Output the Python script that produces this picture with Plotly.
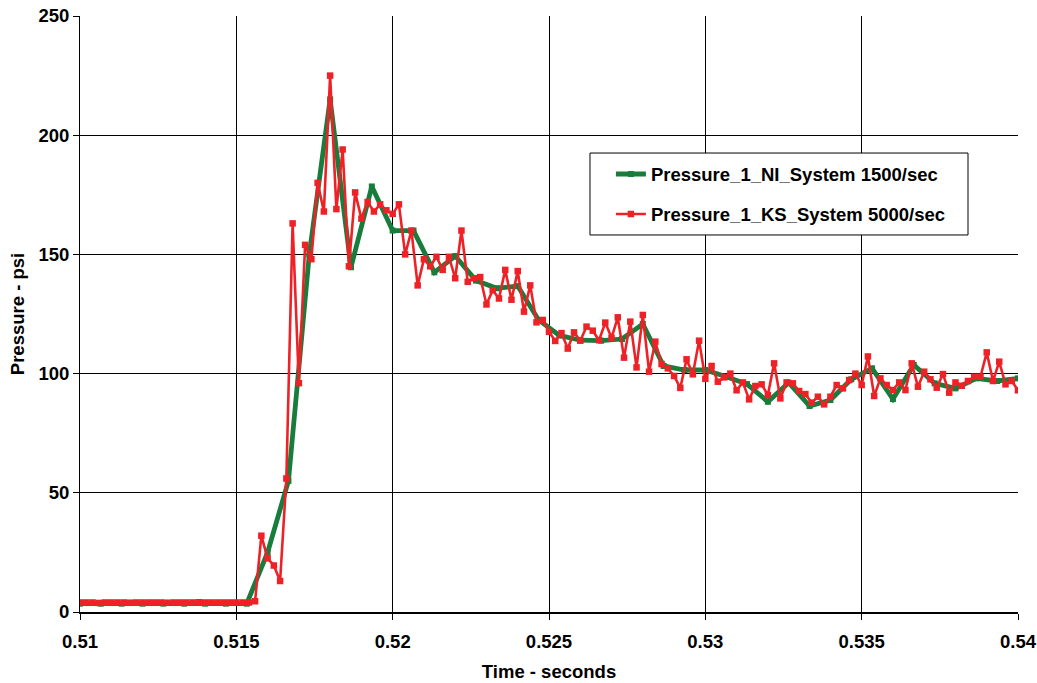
import plotly.graph_objects as go

# Sampling setup for the two acquisition systems
T0 = 0.51
NI_RATE = 1500.0   # samples per second
KS_RATE = 5000.0   # samples per second

# Pressure_1 from the NI system (psi), one value per 1/1500 s starting at T0
ni_pressure = [
    3.5, 3.5, 3.5, 3.5, 3.5, 3.5, 3.5, 3.5, 3.5, 25,
    55, 150, 215, 144.6, 178.5, 160, 160, 142.5, 149.3, 139,
    135.8, 136.7, 122.5, 116, 114, 113.8, 114.5, 120.8, 103.2, 101.5,
    101.5, 98.7, 95.6, 88.2, 96.2, 86.4, 88.9, 97.6, 102.2, 89.3,
    103.6, 95.9, 93.8, 98, 96.9, 98, 97,
]

# Pressure_1 from the KS system (psi), one value per 1/5000 s starting at T0
ks_pressure = [
    4, 4, 4, 3.8, 4, 4, 4, 4, 3.9, 4,
    4, 4, 4, 4, 3.9, 4, 4, 4, 4, 4.1,
    4, 4, 4, 4, 4, 4, 4, 4, 4.5, 32,
    22.5, 19.5, 13, 56, 163, 96, 154, 148, 180, 168,
    225, 169, 194, 145, 176, 165, 172, 168, 171, 168.5,
    167, 171, 150, 160, 137, 148, 145, 149, 143.5, 149,
    140, 160, 138.5, 140, 140.5, 129, 135, 131.5, 143.5, 131,
    143, 126, 137, 121.5, 122.5, 117.5, 113.7, 117, 110.5, 117.3,
    113.8, 119.7, 118, 114, 121.4, 115, 123.6, 106.7, 121.8, 102.6,
    124.6, 100.8, 113.4, 104, 102.2, 99, 94, 106, 99.7, 113.8,
    97.8, 103.2, 96.6, 98.4, 100, 93, 96.3, 89.2, 94.8, 95.5,
    91, 104.3, 89.6, 96.3, 95.9, 92.7, 91.4, 87.8, 90.3, 87.1,
    90.3, 95.2, 93.8, 97.3, 100, 95.2, 107.2, 90.6, 98, 95.2,
    93.1, 96.3, 93.1, 104.3, 94.5, 100.8, 97.6, 94.1, 99.8, 92,
    96.3, 94.9, 96.9, 98.7, 98.7, 108.9, 96.9, 105, 95.5, 96.9,
    93, 86,
]

x_ticks = [0.51, 0.515, 0.52, 0.525, 0.53, 0.535, 0.54]
x_tick_text = ["0.51", "0.515", "0.52", "0.525", "0.53", "0.535", "0.54"]
y_ticks = [0, 50, 100, 150, 200, 250]

ni_time = [T0 + n / NI_RATE for n in range(len(ni_pressure))]
ks_time = [T0 + n / KS_RATE for n in range(len(ks_pressure))]

FONT = "Liberation Sans, Arial, sans-serif"
GREEN = "#187c3c"
RED = "#ee2226"
BOLD = dict(family=FONT, size=18.5, color="black", weight="bold")

fig = go.Figure()
fig.add_trace(go.Scatter(
    x=ni_time, y=ni_pressure, mode="lines+markers",
    name="Pressure_1_NI_System 1500/sec", legendgroup="ni",
    line=dict(color=GREEN, width=4.8),
    marker=dict(symbol="square", size=6, color=GREEN),
    cliponaxis=True,
))
fig.add_trace(go.Scatter(
    x=ks_time, y=ks_pressure, mode="lines+markers",
    name="Pressure_1_KS_System 5000/sec", legendgroup="ks",
    line=dict(color=RED, width=2.6),
    marker=dict(symbol="square", size=6.5, color=RED),
    cliponaxis=True,
))

# White framed box behind the legend entries
fig.add_shape(
    type="rect", xref="paper", yref="paper",
    x0=0.5437, x1=0.9467, y0=0.6326, y1=0.7701,
    line=dict(color="black", width=1), fillcolor="white", layer="above",
)

fig.update_layout(
    width=1037, height=683,
    margin=dict(l=80, r=19, t=16, b=71),
    paper_bgcolor="white", plot_bgcolor="white",
    font=BOLD,
    showlegend=True,
    legend=dict(
        x=0.566, y=0.766, xanchor="left", yanchor="top",
        bgcolor="rgba(0,0,0,0)", borderwidth=0,
        traceorder="grouped", tracegroupgap=13,
        font=BOLD,
    ),
    xaxis=dict(
        range=[0.51, 0.54], tickvals=x_ticks, ticktext=x_tick_text,
        showgrid=True, gridcolor="black", gridwidth=1,
        showline=True, linecolor="black", linewidth=2,
        ticks="outside", ticklen=6, tickcolor="black",
        zeroline=False, ticklabelstandoff=6, automargin=False,
        tickfont=BOLD,
        title=dict(text="Time - seconds", standoff=14, font=BOLD),
    ),
    yaxis=dict(
        range=[0, 250], tickvals=y_ticks,
        showgrid=True, gridcolor="black", gridwidth=1,
        showline=True, linecolor="black", linewidth=1,
        ticks="outside", ticklen=6, tickcolor="black",
        zeroline=False, automargin=False,
        tickfont=BOLD,
        title=dict(text="Pressure - psi", standoff=8, font=BOLD),
    ),
)

fig.write_html("out.html")
